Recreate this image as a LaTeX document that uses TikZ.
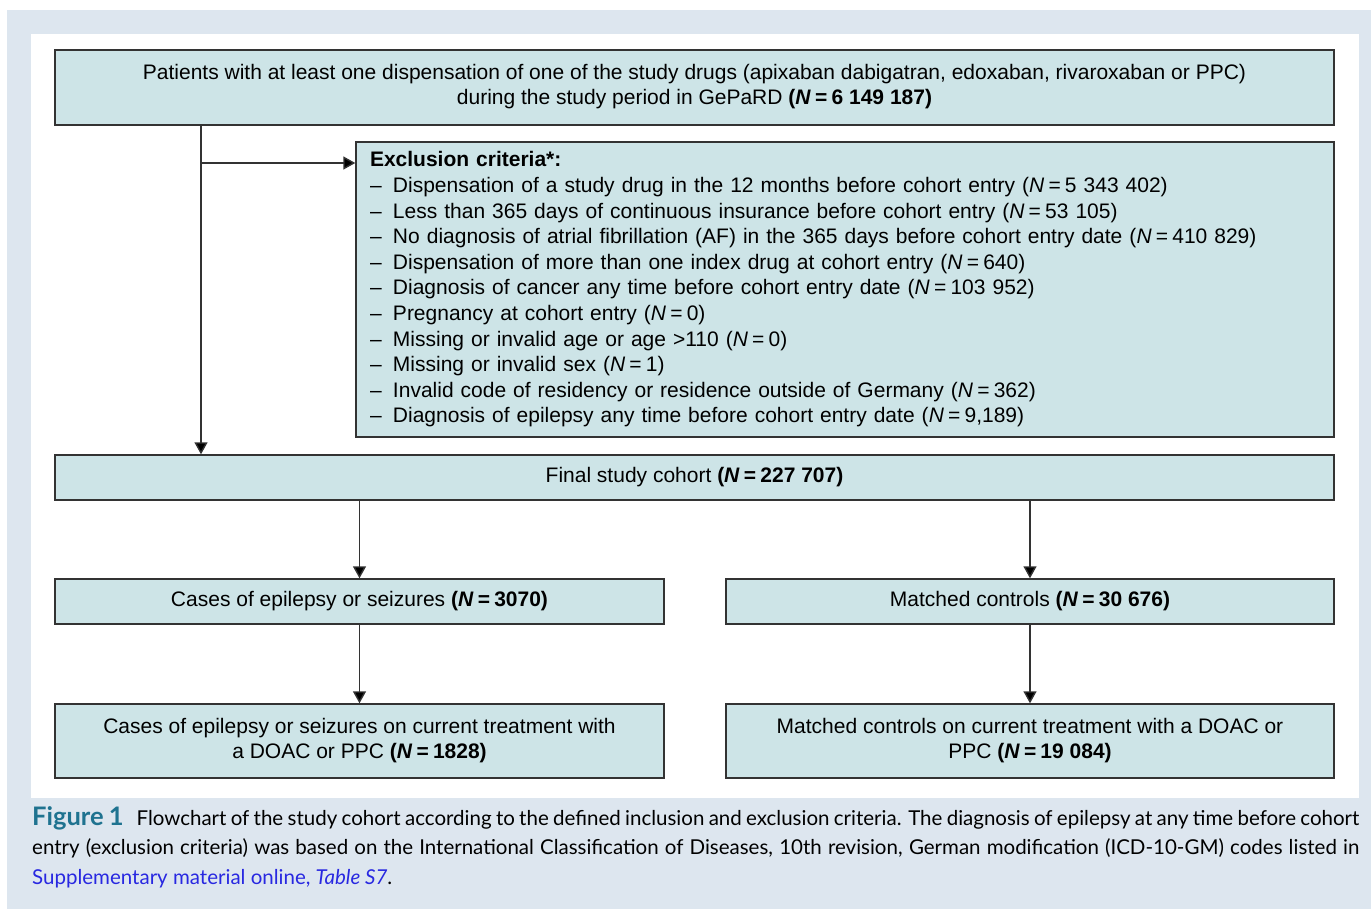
\documentclass[tikz,border=0pt]{standalone}
\usepackage{fontspec}
\setmainfont{Liberation Sans}
\newfontfamily\capfont{Lato}
\usetikzlibrary{arrows.meta}
\definecolor{bgblue}{RGB}{221,230,239}
\definecolor{boxfill}{RGB}{205,228,231}
\definecolor{boxline}{RGB}{51,51,51}
\definecolor{figteal}{RGB}{31,115,144}
\definecolor{linkblue}{RGB}{40,40,225}
\tikzset{
  fbox/.style={draw=boxline, fill=boxfill, line width=1.4pt, inner sep=0pt, align=center,
    font=\fontsize{21}{25}\selectfont},
  arr/.style={draw=boxline, line width=1.4pt, -{Triangle[width=13pt,length=12pt,fill=black]}},
}
\newcommand{\eqs}{\hspace{0.2em}=\hspace{0.2em}}
\newcommand{\NN}[1]{\textbf{(\textit{N}\eqs#1)}}
\newcommand{\nn}[1]{(\textit{N}\eqs#1)}
\newcommand{\itm}[1]{\makebox[23pt][l]{–}#1\\}
\begin{document}
\begin{tikzpicture}[x=1pt,y=-1pt]
\useasboundingbox (0,0) rectangle (1371,909);
\fill[bgblue] (7,10) rectangle (1371,909);
\fill[white] (31,34) rectangle (1359,798);

\node[fbox, minimum width=1279pt, minimum height=75pt] (top) at (694.5,87.5)
  {\raisebox{3pt}{\begin{tabular}{@{}c@{}}Patients with at least one dispensation of one of the study drugs (apixaban dabigatran, edoxaban, rivaroxaban or PPC)\\
   during the study period in GePaRD \NN{6 149 187}\end{tabular}}};

\node[fbox, minimum width=978pt, minimum height=295pt, text width=950pt, align=left,
      font=\fontsize{21}{25.6}\selectfont] (excl) at (845,289.5)
  {\textbf{Exclusion criteria*:}\\
   \itm{Dispensation of a study drug in the 12 months before cohort entry \nn{5 343 402}}
   \itm{Less than 365 days of continuous insurance before cohort entry \nn{53 105}}
   \itm{No diagnosis of atrial fibrillation (AF) in the 365 days before cohort entry date \nn{410 829}}
   \itm{Dispensation of more than one index drug at cohort entry \nn{640}}
   \itm{Diagnosis of cancer any time before cohort entry date \nn{103 952}}
   \itm{Pregnancy at cohort entry \nn{0}}
   \itm{Missing or invalid age or age >110 \nn{0}}
   \itm{Missing or invalid sex \nn{1}}
   \itm{Invalid code of residency or residence outside of Germany \nn{362}}
   \makebox[23pt][l]{–}Diagnosis of epilepsy any time before cohort entry date \nn{9,189}};

\node[fbox, minimum width=1279pt, minimum height=45pt] (final) at (694.5,477.5)
  {Final study cohort \NN{227 707}};

\node[fbox, minimum width=609pt, minimum height=45pt] (cases) at (359.5,601.5)
  {Cases of epilepsy or seizures \NN{3070}};
\node[fbox, minimum width=608pt, minimum height=45pt] (ctrl) at (1030,601.5)
  {Matched controls \NN{30 676}};

\node[fbox, minimum width=609pt, minimum height=74pt] (casesT) at (359.5,741)
  {Cases of epilepsy or seizures on current treatment with\\
   a DOAC or PPC \NN{1828}};
\node[fbox, minimum width=608pt, minimum height=74pt] (ctrlT) at (1030,741)
  {Matched controls on current treatment with a DOAC or\\
   PPC \NN{19 084}};

\coordinate (vx) at (201,0);
\coordinate (br) at (201,163);
\draw[arr] (top.south -| vx) -- (final.north -| vx);
\draw[arr] (br) -- (br -| excl.west);
\draw[arr] (final.south -| cases.north) -- (cases.north);
\draw[arr] (final.south -| ctrl.north) -- (ctrl.north);
\draw[arr] (cases.south) -- (casesT.north);
\draw[arr] (ctrl.south) -- (ctrlT.north);

\node[anchor=north west, inner sep=0pt, text width=1327pt, align=justify,
      font=\capfont\fontsize{20.5}{29.5}\selectfont] (cap) at (32,806)
  {{\color{figteal}\fontsize{25.5}{29.5}\selectfont\bfseries Figure 1}\hspace{13pt}Flowchart of the study cohort according to the defined inclusion and exclusion criteria. The diagnosis of epilepsy at any time before cohort\linebreak
   entry (exclusion criteria) was based on the International Classification of Diseases, 10th revision, German modification (ICD-10-GM) codes listed in\linebreak
   {\color{linkblue}Supplementary material online, \textit{Table S7}}.\par};
\end{tikzpicture}
\end{document}
